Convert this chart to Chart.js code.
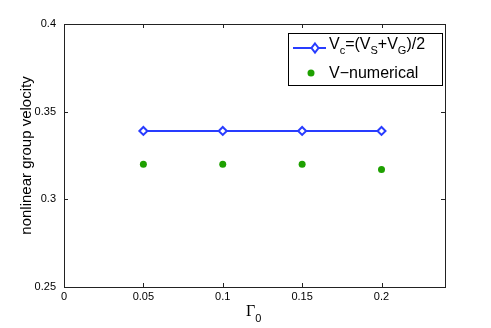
<!DOCTYPE html>
<html lang="en">
<head>
  <meta charset="UTF-8" />
  <title>Nonlinear group velocity</title>
  <script src="https://cdn.jsdelivr.net/npm/chart.js"></script>
  <style>
    html, body { margin: 0; padding: 0; background: #fff; }
    #wrap { width: 491px; height: 328px; }
  </style>
</head>
<body>
  <div id="wrap"><canvas id="chart" width="491" height="328"></canvas></div>
  <script>
    // data
    const gamma0 = [0.05, 0.1, 0.15, 0.2];
    const vcValues = [0.339, 0.339, 0.339, 0.339];
    const vNumerical = [0.320, 0.320, 0.320, 0.317];
    const xTicks = [0, 0.05, 0.1, 0.15, 0.2];
    const yTicks = [0.25, 0.3, 0.35, 0.4];

    const BLUE = "rgb(40,60,255)";
    const GREEN = "rgb(30,160,0)";
    const AXIS = "#222";
    const FONT = "'Liberation Sans', Arial, sans-serif";

    const fmt = v => String(Number(v.toFixed(2)));

    // frame, inward ticks, legend and x title (MATLAB look)
    const matlabLook = {
      id: "matlabLook",
      afterDraw(chart) {
        const { ctx, chartArea: a, scales } = chart;
        const x = scales.x, y = scales.y;
        ctx.save();
        ctx.strokeStyle = AXIS;
        ctx.lineWidth = 1;
        ctx.strokeRect(Math.round(a.left) + 0.5, Math.round(a.top) + 0.5,
          Math.round(a.right - a.left), Math.round(a.bottom - a.top));
        const L = 4;
        ctx.beginPath();
        xTicks.forEach(v => {
          const px = Math.round(x.getPixelForValue(v)) + 0.5;
          ctx.moveTo(px, a.bottom); ctx.lineTo(px, a.bottom - L);
          ctx.moveTo(px, a.top); ctx.lineTo(px, a.top + L);
        });
        yTicks.forEach(v => {
          const py = Math.round(y.getPixelForValue(v)) + 0.5;
          ctx.moveTo(a.left, py); ctx.lineTo(a.left + L, py);
          ctx.moveTo(a.right, py); ctx.lineTo(a.right - L, py);
        });
        ctx.stroke();

        // x axis title: Gamma with subscript 0
        ctx.fillStyle = "#000";
        ctx.textBaseline = "alphabetic";
        ctx.textAlign = "left";
        ctx.font = "16px 'Liberation Serif', 'DejaVu Serif', serif";
        const gx = 246, gy = 316;
        ctx.fillText("Γ", gx, gy);
        const gw = ctx.measureText("Γ").width;
        ctx.font = "11px " + FONT;
        ctx.fillText("0", gx + gw, gy + 6);

        // legend box
        const bx = 288.5, by = 33.5, bw = 154, bh = 52;
        ctx.fillStyle = "#fff";
        ctx.fillRect(bx, by, bw, bh);
        ctx.strokeStyle = "#000";
        ctx.strokeRect(bx, by, bw, bh);

        const r1 = 48, r2 = 73;
        ctx.strokeStyle = BLUE;
        ctx.lineWidth = 2;
        ctx.beginPath();
        ctx.moveTo(293, r1); ctx.lineTo(326, r1);
        ctx.stroke();
        const dx = 315;
        ctx.beginPath();
        ctx.moveTo(dx, r1 - 4.5); ctx.lineTo(dx + 3.5, r1);
        ctx.lineTo(dx, r1 + 4.5); ctx.lineTo(dx - 3.5, r1); ctx.closePath();
        ctx.fillStyle = "#fff";
        ctx.fill();
        ctx.stroke();

        ctx.fillStyle = GREEN;
        ctx.beginPath();
        ctx.arc(311, r2, 3.5, 0, Math.PI * 2);
        ctx.fill();

        // legend text with subscripts
        ctx.fillStyle = "#000";
        const parts = [["V", 0], ["c", 1], ["=(V", 0], ["S", 1], ["+V", 0], ["G", 1], [")/2", 0]];
        let tx = 329;
        parts.forEach(([t, sub]) => {
          ctx.font = (sub ? "11px " : "16px ") + FONT;
          ctx.fillText(t, tx, r1 + 1 + (sub ? 5 : 0));
          tx += ctx.measureText(t).width;
        });
        ctx.font = "16px " + FONT;
        ctx.fillText("V\u2212numerical", 329, r2 + 5);
        ctx.restore();
      }
    };

    new Chart(document.getElementById("chart"), {
      type: "line",
      data: {
        datasets: [
          {
            label: "Vc=(VS+VG)/2",
            data: gamma0.map((g, i) => ({ x: g, y: vcValues[i] })),
            borderColor: BLUE,
            borderWidth: 2,
            pointStyle: "rectRot",
            pointRadius: 4,
            pointBorderWidth: 2,
            pointBorderColor: BLUE,
            pointBackgroundColor: "#fff",
            showLine: true
          },
          {
            label: "V-numerical",
            data: gamma0.map((g, i) => ({ x: g, y: vNumerical[i] })),
            showLine: false,
            pointStyle: "circle",
            pointRadius: 3.5,
            pointBorderWidth: 0,
            pointBackgroundColor: GREEN,
            pointBorderColor: GREEN
          }
        ]
      },
      options: {
        responsive: false,
        animation: false,
        layout: { padding: { top: 24, right: 46, left: 0, bottom: 0 } },
        plugins: { legend: { display: false }, tooltip: { enabled: false } },
        scales: {
          x: {
            type: "linear",
            min: 0, max: 0.24,
            afterBuildTicks: s => { s.ticks = xTicks.map(v => ({ value: v })); },
            afterFit: s => { s.height = 41; },
            grid: { display: false, drawTicks: false },
            border: { display: false },
            ticks: { color: "#000", font: { family: FONT, size: 11 }, padding: 3, callback: v => fmt(v), maxRotation: 0 }
          },
          y: {
            type: "linear",
            min: 0.25, max: 0.4,
            afterBuildTicks: s => { s.ticks = yTicks.map(v => ({ value: v })); },
            afterFit: s => { s.width = 64; },
            grid: { display: false, drawTicks: false },
            border: { display: false },
            title: { display: true, text: "nonlinear group velocity", color: "#000", font: { family: FONT, size: 15 }, padding: { top: 18, bottom: 0 } },
            ticks: { color: "#000", font: { family: FONT, size: 11 }, padding: 8, callback: v => fmt(v) }
          }
        }
      },
      plugins: [matlabLook]
    });
  </script>
</body>
</html>
